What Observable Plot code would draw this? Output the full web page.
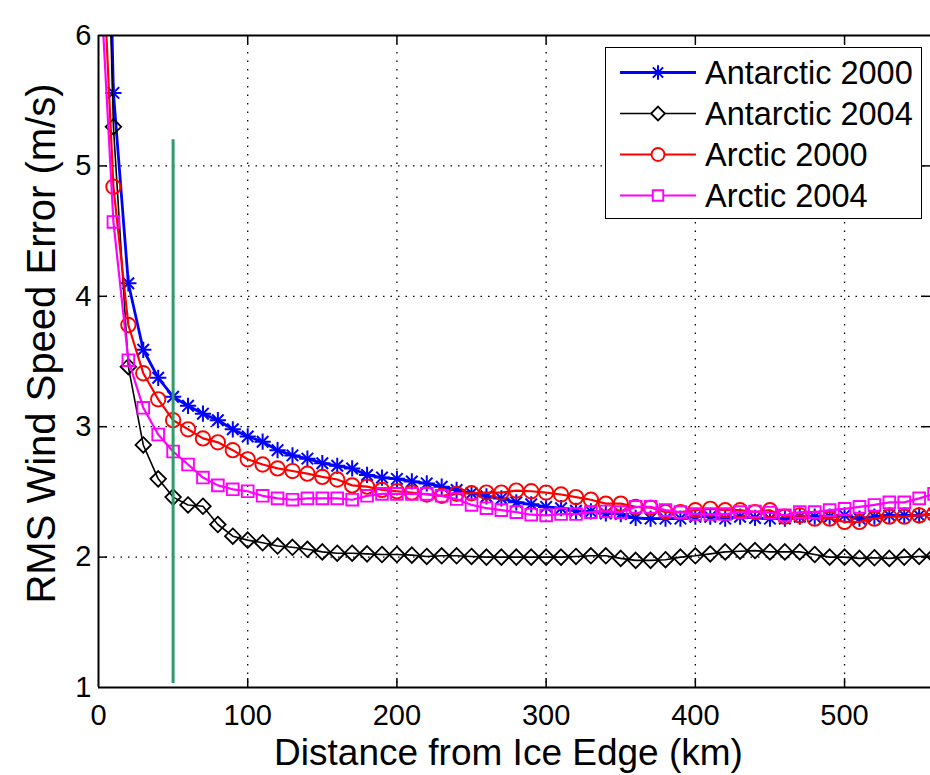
<!DOCTYPE html>
<html><head><meta charset="utf-8">
<script src="https://cdn.jsdelivr.net/npm/d3@7"></script>
<script src="https://cdn.jsdelivr.net/npm/@observablehq/plot@0.6"></script>
<style>
body{margin:0;background:#fff;font-family:"Liberation Sans",Arial,Helvetica,sans-serif;}
#wrap{position:relative;width:930px;height:775px;overflow:hidden;background:#fff;}
#legend{position:absolute;left:605px;top:47px;width:317px;height:172px;border:1.6px solid #000;background:#fff;box-sizing:border-box;}
.row{position:absolute;left:0;height:41px;}
.row svg{position:absolute;left:14px;top:0;}
.row span{position:absolute;left:99px;top:50%;transform:translateY(-50%);font-size:32.5px;white-space:nowrap;color:#000;line-height:1;}
</style></head><body><div id="wrap"></div>
<script>
const distances = [0,10,20,30,40,50,60,70,80,90,100,110,120,130,140,150,160,170,180,190,200,210,220,230,240,250,260,270,280,290,300,310,320,330,340,350,360,370,380,390,400,410,420,430,440,450,460,470,480,490,500,510,520,530,540,550,560];
const antarctic2000 = [10.5,5.56,4.10,3.59,3.375,3.23,3.16,3.10,3.05,2.98,2.925,2.885,2.82,2.78,2.755,2.72,2.70,2.68,2.63,2.61,2.60,2.58,2.565,2.54,2.515,2.49,2.465,2.45,2.42,2.405,2.385,2.375,2.355,2.35,2.335,2.33,2.30,2.295,2.295,2.295,2.31,2.31,2.295,2.31,2.30,2.295,2.295,2.31,2.31,2.31,2.32,2.295,2.31,2.32,2.32,2.32,2.33];
const antarctic2004 = [9.5,5.30,3.46,2.86,2.60,2.46,2.40,2.39,2.25,2.16,2.13,2.11,2.085,2.075,2.06,2.04,2.03,2.03,2.025,2.02,2.02,2.015,2.005,2.01,2.01,2.005,2.00,2.00,2.00,2.00,2.00,2.00,2.005,2.01,2.01,1.99,1.975,1.975,1.98,2.00,2.01,2.025,2.04,2.045,2.05,2.04,2.04,2.04,2.02,2.00,2.00,1.99,1.995,1.99,2.00,2.005,2.01];
const arctic2000 = [7.3,4.84,3.78,3.41,3.21,3.05,2.98,2.91,2.88,2.82,2.75,2.71,2.68,2.66,2.64,2.615,2.595,2.55,2.54,2.515,2.505,2.495,2.48,2.47,2.485,2.49,2.495,2.495,2.51,2.505,2.495,2.48,2.46,2.44,2.41,2.41,2.385,2.38,2.345,2.345,2.36,2.37,2.36,2.36,2.345,2.36,2.31,2.32,2.295,2.295,2.27,2.27,2.295,2.31,2.31,2.32,2.33];
const arctic2004 = [6.7,4.57,3.51,3.145,2.94,2.81,2.71,2.61,2.55,2.52,2.505,2.47,2.45,2.44,2.45,2.45,2.45,2.44,2.47,2.485,2.485,2.485,2.485,2.47,2.445,2.40,2.375,2.36,2.345,2.325,2.32,2.33,2.33,2.345,2.35,2.345,2.385,2.385,2.36,2.345,2.33,2.33,2.33,2.345,2.35,2.34,2.32,2.345,2.345,2.36,2.37,2.385,2.40,2.42,2.42,2.45,2.485];
const seriesNames = ["Antarctic 2000","Antarctic 2004","Arctic 2000","Arctic 2004"];
const xTicks = [0,100,200,300,400,500];
const yTicks = [1,2,3,4,5,6];
const markerX = [50];
const markerYRange = [1.03, 5.2];
const xLabel = "Distance from Ice Edge (km)";
const yLabel = "RMS Wind Speed Error (m/s)";

const seriesValues = [antarctic2000, antarctic2004, arctic2000, arctic2004];
const styles = [
  {stroke:"#0000ff", width:2.8, symbols:["plus","times"], r:5.3, sw:2},
  {stroke:"#000000", width:1.6, symbols:["diamond2"], r:7.0, sw:1.8},
  {stroke:"#ff0000", width:2.2, symbols:["circle"], r:7.2, sw:1.9},
  {stroke:"#ff00ff", width:2.2, symbols:["square"], r:6.6, sw:1.9}
];
const rows = seriesNames.flatMap((s,i)=>distances.map((d,j)=>({series:s, x:d, y:seriesValues[i][j]})));

const W=930, H=775, mL=98, mT=35, mB=88, mR=0;
const plotW = W-mL-mR, plotH = H-mT-mB;
const tk = 9;
const xMax = 557.6;

const marks = [
  Plot.gridX(xTicks.filter(d=>d>0), {stroke:"#000", strokeOpacity:1, strokeWidth:1.3, strokeDasharray:"1.5,7"}),
  Plot.gridY(yTicks.filter(d=>d>1 && d<6), {stroke:"#000", strokeOpacity:1, strokeWidth:1.3, strokeDasharray:"1.5,6"}),
  Plot.tickX(xTicks.filter(d=>d>0), {x:d=>d, insetTop:plotH-tk, stroke:"#000", strokeWidth:1.5}),
  Plot.tickX(xTicks.filter(d=>d>0), {x:d=>d, insetBottom:plotH-tk, stroke:"#000", strokeWidth:1.5}),
  Plot.tickY(yTicks.filter(d=>d>1 && d<6), {y:d=>d, insetRight:plotW-tk, stroke:"#000", strokeWidth:1.5}),
  Plot.tickY(yTicks.filter(d=>d>1 && d<6), {y:d=>d, insetLeft:plotW-tk, stroke:"#000", strokeWidth:1.5})
];
seriesNames.forEach((s,i)=>{
  const st = styles[i];
  const data = rows.filter(r=>r.series===s);
  marks.push(Plot.line(data, {x:"x", y:"y", stroke:st.stroke, strokeWidth:st.width, clip:true}));
  st.symbols.forEach(sym=>{
    marks.push(Plot.dot(data, {x:"x", y:"y", symbol:()=>sym, r:st.r, stroke:st.stroke, fill:"none", strokeWidth:st.sw, clip:true}));
  });
});
marks.push(
  Plot.ruleX(markerX, {x:d=>d, y1:markerYRange[0], y2:markerYRange[1], stroke:"#2f9a6b", strokeWidth:3}),
  Plot.ruleX([0], {stroke:"#000", strokeWidth:2}),
  Plot.ruleY([1,6], {stroke:"#000", strokeWidth:2}),
  Plot.axisX({ticks:xTicks, tickSize:0, tickPadding:17, fontSize:29, label:null, tickFormat:d3.format("d")}),
  Plot.axisY({ticks:yTicks, tickSize:0, tickPadding:7, fontSize:29, label:null, tickFormat:d3.format("d")}),
  Plot.text([xLabel], {frameAnchor:"bottom", lineAnchor:"middle", dy:66, dx:-6, fontSize:37, fill:"#000"}),
  Plot.text([yLabel], {frameAnchor:"left", textAnchor:"middle", lineAnchor:"middle", rotate:-90, dx:-56, dy:-18, fontSize:40, fill:"#000"})
);

const chart = Plot.plot({
  width:W, height:H, marginLeft:mL, marginTop:mT, marginBottom:mB, marginRight:mR,
  x:{domain:[0,xMax], axis:null},
  y:{domain:[1,6], axis:null},
  symbol:{type:"identity"},
  style:{fontFamily:'"Liberation Sans",Arial,Helvetica,sans-serif', color:"#000", background:"transparent", overflow:"visible"},
  marks
});
const wrap = document.getElementById("wrap");
wrap.appendChild(chart);

// legend
const legend = document.createElement("div");
legend.id = "legend";
wrap.appendChild(legend);
const symPaths = {plus:d3.symbolPlus, times:d3.symbolTimes, diamond2:d3.symbolDiamond2, circle:d3.symbolCircle, square:d3.symbolSquare};
seriesNames.forEach((s,i)=>{
  const st = styles[i];
  const row = document.createElement("div");
  row.className = "row";
  row.style.top = (4 + i*41) + "px";
  row.style.width = "100%";
  const svg = d3.create("svg").attr("width",76).attr("height",41);
  svg.append("line").attr("x1",0).attr("x2",76).attr("y1",20.5).attr("y2",20.5).attr("stroke",st.stroke).attr("stroke-width",st.width);
  st.symbols.forEach(sym=>{
    svg.append("path").attr("transform","translate(38,20.5)")
      .attr("d", d3.symbol(symPaths[sym], Math.PI*st.r*st.r*0.8)())
      .attr("fill", sym==="plus"||sym==="times" ? "none" : "#fff")
      .attr("stroke", st.stroke).attr("stroke-width", st.sw);
  });
  row.appendChild(svg.node());
  const span = document.createElement("span");
  span.textContent = s;
  row.appendChild(span);
  legend.appendChild(row);
});
</script></body></html>
